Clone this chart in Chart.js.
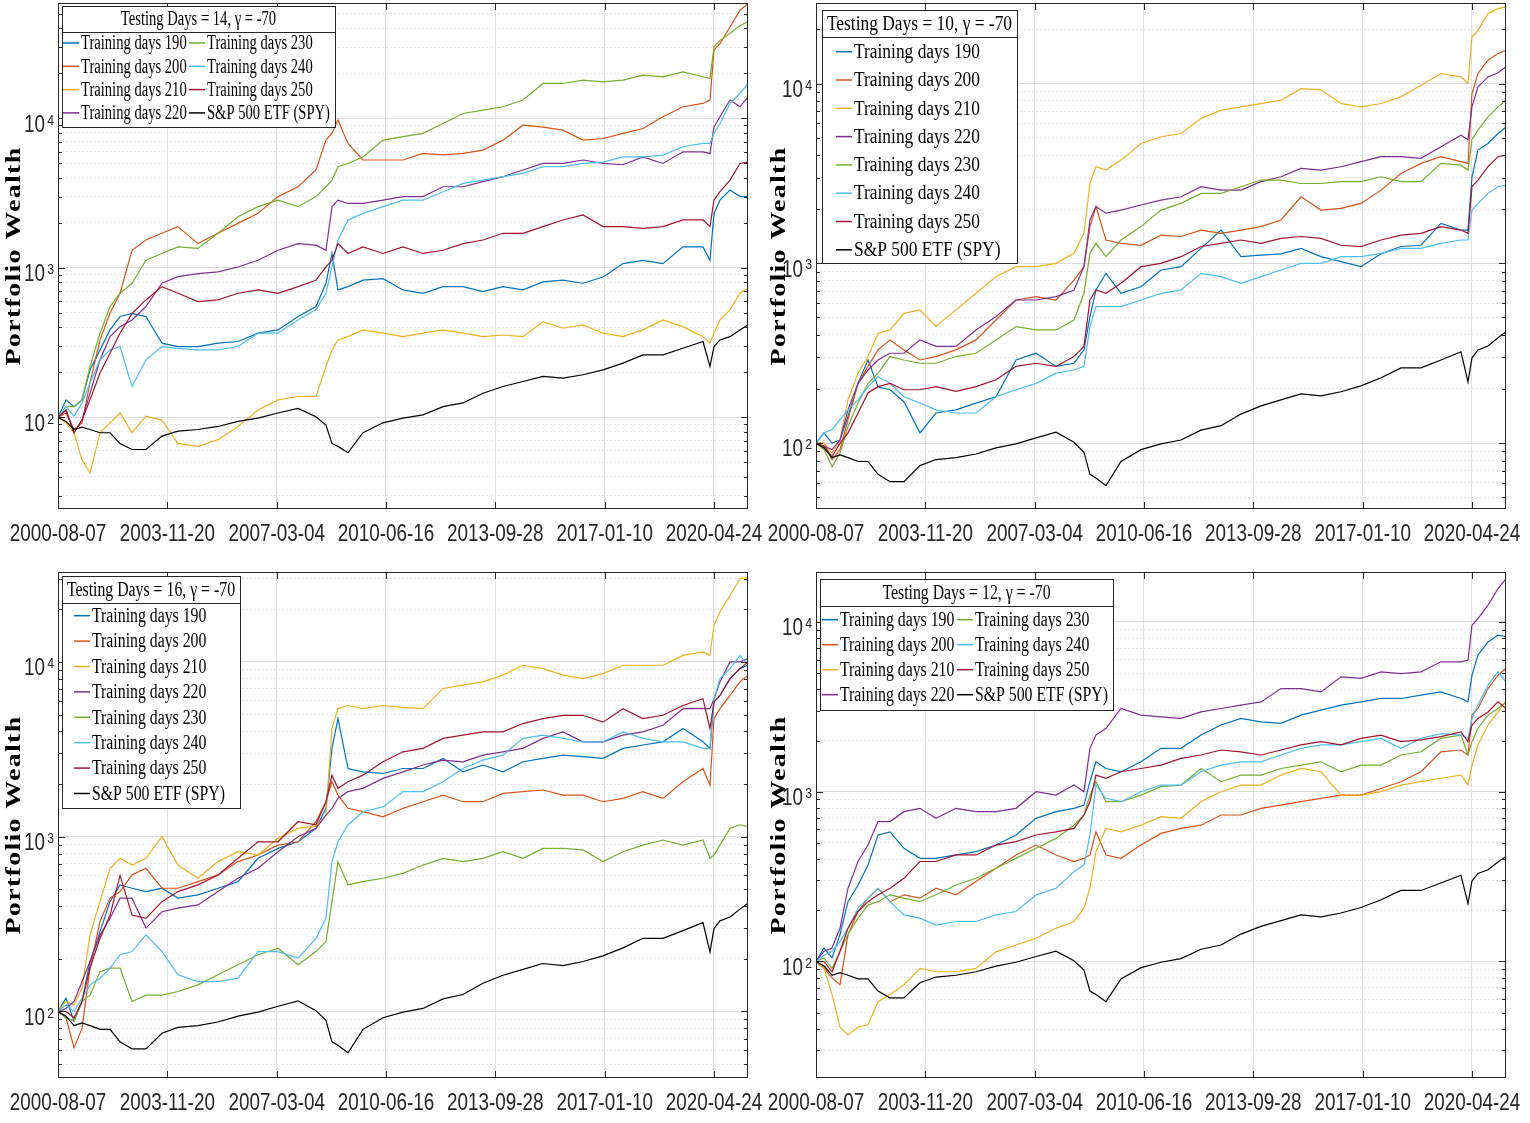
<!DOCTYPE html>
<html>
<head>
<meta charset="utf-8">
<script src="https://cdn.jsdelivr.net/npm/chart.js@4.4.1/dist/chart.umd.min.js"></script>
<style>
  body { margin: 0; background: #fff; width: 1530px; height: 1123px; overflow: hidden; position: relative; }
  canvas { position: absolute; }
</style>
</head>
<body>
<canvas id="c14" width="765" height="560" style="left:0px;top:0px"></canvas>
<canvas id="c10" width="765" height="560" style="left:765px;top:0px"></canvas>
<canvas id="c16" width="765" height="563" style="left:0px;top:560px"></canvas>
<canvas id="c12" width="765" height="563" style="left:765px;top:560px"></canvas>
<script>
// sample dates, days since 2000-08-07
var days = [0,88,176,264,352,462,572,682,814,967,1143,1319,1539,1759,1979,2199,2419,2639,2836,2946,3012,3078,3188,3353,3573,3793,4013,4233,4453,4672,4892,5112,5332,5552,5772,5992,6212,6431,6651,6871,7091,7168,7212,7278,7388,7498,7586];
var tickDays = [0,1202,2404,3606,4808,6010,7212];
var tickLabels = ['2000-08-07','2003-11-20','2007-03-04','2010-06-16','2013-09-28','2017-01-10','2020-04-24'];

var trainingDays = [190,200,210,220,230,240,250];
var seriesColors = ['#0072BD','#D95319','#EDB120','#7E2F8E','#77AC30','#4DBEEE','#A2142F','#000000'];

// S&P 500 ETF, same in every panel
var spy = [100,94,83,86,83,79,79,67,61,61,75,81,83,87,94,99,107,115,101,89,67,64,58,79,92,99,104,118,125,145,161,174,188,183,193,208,231,262,262,290,322,219,298,330,347,385,416];

// Testing days = 14
var t14_190 = [100,131,118,131,208,283,385,473,497,473,314,298,298,314,322,366,385,473,552,790,1250,713,750,828,848,713,677,750,750,695,750,713,806,828,790,870,1069,1125,1069,1383,1383,1125,2307,2842,3320,3000,3000];
var t14_200 = [100,107,83,92,170,330,498,677,1313,1537,1705,1890,1455,1705,1986,2318,3000,3492,4518,7163,7943,9750,6808,5272,5272,5272,5834,5700,5834,6138,7163,9020,8760,8356,7163,7340,7943,8560,10260,11970,12600,13280,28640,31700,40930,52950,58600];
var t14_210 = [100,92,79,52,42.5,79,92,107,79,102,96,67,64,71,87,112,131,138,138,219,283,330,347,385,366,347,366,385,366,347,356,347,437,395,416,366,347,385,449,405,347,314,366,449,524,677,731];
var t14_220 = [100,112,79,96,145,243,347,405,449,552,790,875,917,940,1015,1125,1313,1455,1420,1313,2570,2842,2700,2700,2842,3000,3000,3492,3492,3777,4077,4518,5000,5000,5272,5000,4900,5530,5000,5980,5980,5834,8760,10260,13280,11970,13960];
var t14_230 = [100,118,118,131,219,366,552,677,790,1125,1250,1383,1350,1705,2200,2570,2842,2570,3000,3492,3870,4755,5000,5530,7163,7550,7943,9260,10800,11370,11970,13280,17140,17140,18030,17580,18030,19500,19000,20500,19000,18500,30100,33300,37000,41900,44250];
var t14_240 = [100,118,102,125,170,243,283,298,161,243,298,290,283,283,298,366,366,449,524,677,1015,1537,2090,2318,2570,2842,2842,3236,3681,3870,4077,4295,4755,4755,5000,5100,5530,5530,5690,6470,6808,6808,7943,9260,12600,14690,17140];
var t14_250 = [100,112,79,96,131,198,269,366,497,611,750,677,596,611,677,713,677,750,828,1015,1125,1455,1250,1383,1250,1383,1250,1313,1455,1537,1705,1705,1890,2094,2260,1890,1890,1840,1890,2094,2094,1890,2842,3236,3870,5000,5100];

// Testing days = 10
var t10_190 = [100,114,100,104,141,215,290,205,198,170,114,147,153,167,181,290,316,267,278,330,506,711,880,681,741,918,958,1211,1531,1089,1111,1129,1211,1089,1021,958,1129,1240,1260,1667,1531,1531,3030,4264,4640,5275,5740];
var t10_200 = [100,100,81,92,135,215,267,330,375,330,290,303,330,375,484,625,653,625,807,958,1600,2065,1348,1290,1260,1435,1410,1531,1468,1531,1600,1742,2345,1978,2020,2154,2553,3160,3595,3918,3675,3595,8790,11370,13490,14690,15310];
var t10_210 = [100,100,88,104,174,245,303,408,426,527,551,445,551,681,843,958,958,1000,1137,1468,2783,3445,3300,3750,4640,5060,5275,6390,7110,7420,7740,8080,9370,9230,7740,7420,7740,8430,9790,11370,10900,10000,18150,19770,24480,26100,26670];
var t10_220 = [100,96,92,104,153,215,255,290,316,316,375,345,345,426,506,625,625,653,711,958,1742,2065,1900,1978,2110,2248,2345,2667,2553,2553,2845,3030,3375,3300,3445,3675,3918,3918,3835,4450,5160,4870,7420,9580,10880,11480,12390];
var t10_230 = [100,92,74,88,124,167,215,245,303,290,278,278,303,316,375,445,426,426,484,681,1137,1290,1089,1348,1600,1978,2154,2450,2450,2667,2905,2905,2780,2780,2845,2845,3030,2845,2845,3595,3515,3300,4870,5510,6530,7420,8080];
var t10_240 = [100,114,119,135,153,174,206,234,215,181,167,153,147,147,181,198,215,245,255,267,445,575,575,575,625,681,711,880,843,774,843,918,1000,1000,1089,1089,1137,1211,1211,1290,1348,1348,1978,2154,2450,2667,2720];
var t10_250 = [100,96,84,100,114,147,190,206,215,198,198,206,194,206,225,267,278,267,303,345,625,711,681,774,958,1000,1089,1240,1290,1348,1290,1375,1410,1375,1260,1240,1348,1435,1468,1600,1531,1468,2667,2905,3445,3918,4000];

// Testing days = 16
var t16_190 = [100,119,88,114,193,286,425,530,507,485,507,445,465,507,553,752,857,935,1116,1453,3200,4740,2455,2350,2300,2455,2455,2806,2350,2570,2350,2683,2806,2930,2870,2806,3200,3346,3490,4160,3490,3200,5900,6430,8030,9160,9580];
var t16_200 = [100,92,62,80,177,327,445,485,604,659,507,507,553,604,720,785,895,935,1218,1585,2060,1730,1453,1390,1300,1453,1585,1730,1585,1585,1770,1810,1850,1730,1730,1585,1655,1810,1655,2060,2455,1970,4740,5400,6430,7690,8400];
var t16_210 = [100,114,109,136,274,425,659,752,688,752,1000,688,578,720,820,785,980,1116,1150,1330,4160,5400,5630,5400,5630,5500,5400,7050,7360,7690,8400,9570,9160,8400,8030,8570,9570,9570,9570,10900,11400,10900,16200,19300,24000,29900,30600];
var t16_220 = [100,104,114,148,193,274,341,445,445,300,372,390,407,485,578,659,820,1000,1116,1330,1453,1655,1810,1890,2155,2350,2570,2740,2683,2930,3060,3200,3650,3980,3490,3490,3810,3980,4340,5400,5400,5400,6160,7690,10000,10000,10450];
var t16_230 = [100,92,88,114,124,169,177,177,114,124,124,130,142,162,185,211,230,185,220,251,425,720,530,553,578,617,688,752,720,752,820,752,857,857,840,720,820,895,957,895,957,752,785,895,1116,1170,1140];
var t16_240 = [100,109,100,119,142,155,177,211,220,274,220,162,148,148,155,220,220,202,262,341,720,935,1170,1390,1480,1810,1810,2060,2455,2740,2930,3650,3810,3650,3490,3490,3980,3650,3490,3490,3200,3200,6160,8030,9160,10900,9580];
var t16_250 = [100,100,92,114,177,262,356,600,356,341,425,485,530,604,752,935,935,1218,1170,1585,2250,1890,2060,2250,2683,3060,3200,3650,3810,3980,3980,4440,4740,4950,4950,4520,5400,4740,4950,5630,6160,4160,5900,6430,8030,9160,10000];

// Testing days = 12
var t12_190 = [100,120,105,144,225,282,370,556,580,464,405,405,424,444,485,556,697,763,798,834,1145,1500,1370,1310,1500,1800,1800,2155,2470,2700,2580,2525,2825,3020,3235,3380,3540,3540,3700,3870,3540,3380,4850,6370,7620,8350,8200];
var t12_200 = [100,91,80,73,144,197,236,270,225,247,236,270,247,296,354,424,485,424,388,405,424,580,424,405,485,568,608,635,729,729,798,834,873,914,955,955,1045,1145,1310,1718,1760,1640,2825,3090,4050,4850,5310];
var t12_210 = [100,91,64,41,37,41,42.4,58,64,73,91,87,87,91,114,125,137,157,172,206,270,444,608,580,635,713,697,873,1000,1094,1094,1253,1370,1310,955,955,1000,1094,1145,1200,1253,1094,1430,1885,2470,2950,3380];
var t12_220 = [100,115,120,157,270,388,485,667,667,763,798,697,798,763,763,798,1000,955,1094,1000,1800,2155,2360,3090,2825,2760,2700,2950,3090,3235,3380,4050,4050,3870,4750,4650,5080,4960,5080,5820,5820,5960,9550,10450,12540,15700,18000];
var t12_230 = [100,105,91,115,144,180,215,225,247,236,225,247,282,309,354,405,464,531,635,729,955,1145,873,873,955,1070,1094,1370,1145,1253,1253,1370,1435,1500,1310,1435,1435,1645,1718,2060,2155,1645,1970,2360,2825,3090,3380];
var t12_240 = [100,109,115,131,157,206,236,270,225,188,180,164,172,172,188,197,247,270,338,370,556,1094,914,873,1000,1094,1094,1310,1435,1500,1500,1645,1800,1885,1885,1970,2060,1800,2060,2200,2155,2060,2700,3235,4240,5080,4420];
var t12_250 = [100,100,87,115,157,197,225,247,270,309,388,388,424,424,485,508,556,580,608,729,873,1253,1200,1310,1370,1435,1570,1645,1760,1718,1645,1760,1885,1970,1885,2060,2155,1970,2020,2110,2250,1970,2470,2700,2950,3380,3090];

var AXIS = '#262626';

function isDecade(v) {
  var l = Math.log10(v);
  return Math.abs(l - Math.round(l)) < 1e-6;
}

function logTicks(min, max) {
  var out = [];
  for (var n = Math.floor(Math.log10(min)); n <= Math.ceil(Math.log10(max)); n++) {
    for (var k = 1; k <= 9; k++) {
      var v = k * Math.pow(10, n);
      if (v >= min && v <= max) out.push(v);
    }
  }
  return out;
}

function squeezeText(ctx, s, x, y, xs, align) {
  ctx.save();
  ctx.translate(x, y);
  ctx.scale(xs, 1);
  ctx.textAlign = align;
  ctx.fillText(s, 0, 0);
  ctx.restore();
}

// box, inward ticks, date labels and 10^n labels
var frame = {
  id: 'frame',
  afterDatasetsDraw: function(chart) {
    var ctx = chart.ctx, a = chart.chartArea, xs = chart.scales.x, ys = chart.scales.y;
    ctx.save();
    ctx.strokeStyle = AXIS;
    ctx.lineWidth = 1;
    ctx.strokeRect(a.left + 0.5, a.top + 0.5, a.right - a.left - 1, a.bottom - a.top - 1);
    ctx.beginPath();
    tickDays.forEach(function(d) {
      var px = Math.round(xs.getPixelForValue(d)) + 0.5;
      ctx.moveTo(px, a.bottom); ctx.lineTo(px, a.bottom - 7);
      ctx.moveTo(px, a.top); ctx.lineTo(px, a.top + 7);
    });
    ys.ticks.forEach(function(t) {
      var py = Math.round(ys.getPixelForValue(t.value)) + 0.5;
      var len = isDecade(t.value) ? 7 : 4;
      ctx.moveTo(a.left, py); ctx.lineTo(a.left + len, py);
      ctx.moveTo(a.right, py); ctx.lineTo(a.right - len, py);
    });
    ctx.stroke();

    ctx.fillStyle = AXIS;
    ctx.textBaseline = 'middle';
    ctx.font = '23px "Liberation Sans", Arial, sans-serif';
    tickDays.forEach(function(d, i) {
      squeezeText(ctx, tickLabels[i], xs.getPixelForValue(d), a.bottom + 26, 0.82, 'center');
    });
    ys.ticks.forEach(function(t) {
      if (!isDecade(t.value)) return;
      var py = ys.getPixelForValue(t.value);
      var e = String(Math.round(Math.log10(t.value)));
      ctx.font = '23px "Liberation Sans", Arial, sans-serif';
      squeezeText(ctx, '10', a.left - 13, py + 7, 0.82, 'right');
      ctx.font = '15px "Liberation Sans", Arial, sans-serif';
      squeezeText(ctx, e, a.left - 4, py + 2, 0.82, 'right');
    });
    ctx.restore();
  }
};

var legendBox = {
  id: 'legendBox',
  afterDraw: function(chart, args, o) {
    var ctx = chart.ctx;
    ctx.save();
    ctx.fillStyle = '#fff';
    ctx.fillRect(o.x, o.y, o.w, o.h);
    ctx.strokeStyle = AXIS;
    ctx.lineWidth = 1;
    ctx.strokeRect(o.x + 0.5, o.y + 0.5, o.w, o.h);
    ctx.beginPath();
    ctx.moveTo(o.x, o.y + o.titleH + 0.5);
    ctx.lineTo(o.x + o.w, o.y + o.titleH + 0.5);
    ctx.stroke();
    ctx.fillStyle = '#000';
    ctx.textBaseline = 'middle';
    ctx.font = o.font + 'px "Liberation Serif", "Times New Roman", serif';
    squeezeText(ctx, o.title, o.x + o.w / 2, o.y + o.titleH / 2 + 1, o.xs, 'center');
    chart.data.datasets.forEach(function(ds, i) {
      var col = Math.floor(i / o.rows), row = i % o.rows;
      var cx = o.colX[col], cy = o.rowY + row * o.rowH;
      ctx.strokeStyle = ds.borderColor;
      ctx.lineWidth = 1.5;
      ctx.beginPath();
      ctx.moveTo(cx, cy); ctx.lineTo(cx + 16, cy);
      ctx.stroke();
      squeezeText(ctx, ds.label, cx + 18, cy + 1, o.xs, 'left');
    });
    ctx.restore();
  }
};

var yTitle = {
  id: 'yTitle',
  afterDraw: function(chart) {
    var ctx = chart.ctx, a = chart.chartArea;
    ctx.save();
    ctx.translate(15, (a.top + a.bottom) / 2);
    ctx.scale(0.75, 1);
    ctx.rotate(-Math.PI / 2);
    ctx.font = 'bold 28px "Liberation Serif", "Times New Roman", serif';
    ctx.letterSpacing = '1.3px';
    ctx.textAlign = 'center';
    ctx.textBaseline = 'middle';
    ctx.fillStyle = '#000';
    ctx.fillText('Portfolio Wealth', 0, 0);
    ctx.restore();
  }
};

function makePanel(p) {
  var labels = trainingDays.map(function(t) { return 'Training days ' + t; }).concat(['S&P 500 ETF (SPY)']);
  var all = p.series.concat([spy]);
  var datasets = all.map(function(vals, i) {
    return {
      label: labels[i],
      data: days.map(function(d, j) { return { x: d, y: vals[j] }; }),
      borderColor: seriesColors[i],
      borderWidth: 1.2,
      pointRadius: 0,
      tension: 0,
      fill: false,
      order: all.length - i
    };
  });
  var yVals = logTicks(p.yMin, p.yMax);
  new Chart(document.getElementById(p.id), {
    type: 'line',
    data: { datasets: datasets },
    plugins: [frame, legendBox, yTitle],
    options: {
      responsive: false,
      animation: false,
      events: [],
      layout: { padding: { top: p.padTop, right: p.padRight, left: 0, bottom: 0 } },
      plugins: {
        legend: { display: false },
        tooltip: { enabled: false },
        legendBox: p.legend
      },
      scales: {
        x: {
          type: 'linear',
          min: 0,
          max: 7586,
          afterBuildTicks: function(s) { s.ticks = tickDays.map(function(v) { return { value: v }; }); },
          afterFit: function(s) { s.height = p.xH; },
          grid: { color: '#dfdfdf', lineWidth: 1, drawTicks: false },
          border: { display: false },
          ticks: { display: false }
        },
        y: {
          type: 'logarithmic',
          min: p.yMin,
          max: p.yMax,
          afterBuildTicks: function(s) { s.ticks = yVals.map(function(v) { return { value: v }; }); },
          afterFit: function(s) { s.width = p.yW; },
          grid: {
            color: function(c) { return c.tick && isDecade(c.tick.value) ? '#dcdcdc' : '#e6e6e6'; },
            lineWidth: 1,
            drawTicks: false
          },
          border: {
            display: false,
            dash: function(c) { return c.tick && !isDecade(c.tick.value) ? [2, 2] : []; }
          },
          ticks: { display: false }
        }
      }
    }
  });
}

makePanel({
  id: 'c14', series: [t14_190, t14_200, t14_210, t14_220, t14_230, t14_240, t14_250],
  yMin: 24.4, yMax: 59200, yW: 58, padTop: 3, padRight: 17, xH: 51,
  legend: { title: 'Testing Days = 14, \u03b3 = -70', x: 62, y: 6, w: 273, h: 121, titleH: 26,
            rows: 4, rowY: 43, rowH: 23.3, colX: [63, 189], font: 20, xs: 0.73 }
});
makePanel({
  id: 'c10', series: [t10_190, t10_200, t10_210, t10_220, t10_230, t10_240, t10_250],
  yMin: 43, yMax: 28050, yW: 51, padTop: 3, padRight: 24, xH: 51,
  legend: { title: 'Testing Days = 10, \u03b3 = -70', x: 57, y: 10, w: 195, h: 253, titleH: 27,
            rows: 8, rowY: 51.7, rowH: 28.3, colX: [71], font: 20, xs: 0.87 }
});
makePanel({
  id: 'c16', series: [t16_190, t16_200, t16_210, t16_220, t16_230, t16_240, t16_250],
  yMin: 41.6, yMax: 32700, yW: 58, padTop: 12, padRight: 17, xH: 45,
  legend: { title: 'Testing Days = 16, \u03b3 = -70', x: 62, y: 16, w: 178, h: 232, titleH: 27,
            rows: 8, rowY: 55.7, rowH: 25.4, colX: [74], font: 20, xs: 0.79 }
});
makePanel({
  id: 'c12', series: [t12_190, t12_200, t12_210, t12_220, t12_230, t12_240, t12_250],
  yMin: 20.6, yMax: 19670, yW: 51, padTop: 12, padRight: 24, xH: 45,
  legend: { title: 'Testing Days = 12, \u03b3 = -70', x: 55, y: 19, w: 293, h: 131, titleH: 27,
            rows: 4, rowY: 59.7, rowH: 25, colX: [57, 192], font: 20, xs: 0.79 }
});
</script>
</body>
</html>
